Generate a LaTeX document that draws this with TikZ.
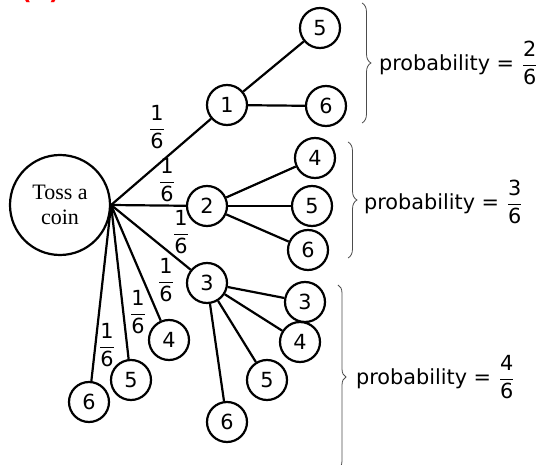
\documentclass[tikz,border=0pt]{standalone}
\usepackage{amsmath}
\usepackage{fontspec}
\setmainfont{DejaVu Sans}
\newfontfamily\coinfont{Liberation Serif}
\usepackage{tikz}
\usetikzlibrary{calc,positioning,fit,shapes,decorations.pathreplacing}

\tikzset{outcome/.style={circle,draw,minimum size=20pt,inner sep=0pt},
         bracket/.style={decorate,decoration={brace,amplitude=#1},draw=black!70,line width=0.4pt},
         bracket/.default=4.5pt}

\begin{document}
\begin{tikzpicture}[x=0.5pt,y=-0.5pt,line width=1.1pt,font=\fontsize{10.4}{12.5}\selectfont]
                \useasboundingbox (0,0) rectangle (537,465);

                \node[red,font=\large\bfseries,anchor=base west] (tag) at (13,0) {(\phantom{b})};

                \node[circle,draw,minimum size=50pt,inner sep=0pt,align=center,font=\coinfont\fontsize{11}{12.5}\selectfont] (root) at (60,205) {Toss a\\coin};

                \node[outcome] (a1) at (227,105) {1};
                \node[outcome] (a2) at (207,206) {2};
                \node[outcome] (a3) at (207,283) {3};
                \node[outcome] (a4) at (169,340) {4};
                \node[outcome] (a5) at (131,380) {5};
                \node[outcome] (a6) at (89,402) {6};

                \node[outcome] (b5) at (320,28) {5};
                \node[outcome] (b6) at (326,106) {6};

                \node[outcome] (c4) at (315,158) {4};
                \node[outcome] (c5) at (312,206) {5};
                \node[outcome] (c6) at (308,250) {6};

                \node[outcome] (d3) at (305,302) {3};
                \node[outcome] (d4) at (300,342) {4};
                \node[outcome] (d5) at (267,380) {5};
                \node[outcome] (d6) at (227,422) {6};

                \foreach \n in {a1,a2,a3,a4,a5,a6}
                        \draw (root.east) -- (\n);
                \foreach \n in {b5,b6}
                        \draw (a1) -- (\n);
                \foreach \n in {c4,c5,c6}
                        \draw (a2) -- (\n);
                \foreach \n in {d3,d4,d5,d6}
                        \draw (a3) -- (\n);

                \node (f1) at (157,127) {$\dfrac{\text{1}}{\text{6}}$};
                \node (f2) at (167,180) {$\dfrac{\text{1}}{\text{6}}$};
                \node (f3) at (181,232) {$\dfrac{\text{1}}{\text{6}}$};
                \node (f4) at (166,280) {$\dfrac{\text{1}}{\text{6}}$};
                \node (f5) at (138,312) {$\dfrac{\text{1}}{\text{6}}$};
                \node (f6) at (107,345) {$\dfrac{\text{1}}{\text{6}}$};

                \coordinate (t1) at (362,3);
                \coordinate (u1) at (362,123);
                \coordinate (t2) at (348,142);
                \coordinate (u2) at (348,258);
                \coordinate (t3) at (338,285);
                \coordinate (u3) at (338,469);
                \draw[bracket] (t1) -- (u1);
                \draw[bracket] (t2) -- (u2);
                \draw[bracket=4pt] (t3) -- (u3);

                \node[anchor=west,inner sep=0pt] (p1) at (378,63) {probability = $\dfrac{\text{2}}{\text{6}}$};
                \node[anchor=west,inner sep=0pt] (p2) at (363,202) {probability = $\dfrac{\text{3}}{\text{6}}$};
                \node[anchor=west,inner sep=0pt] (p3) at (355,377) {probability = $\dfrac{\text{4}}{\text{6}}$};
\end{tikzpicture}
\end{document}
